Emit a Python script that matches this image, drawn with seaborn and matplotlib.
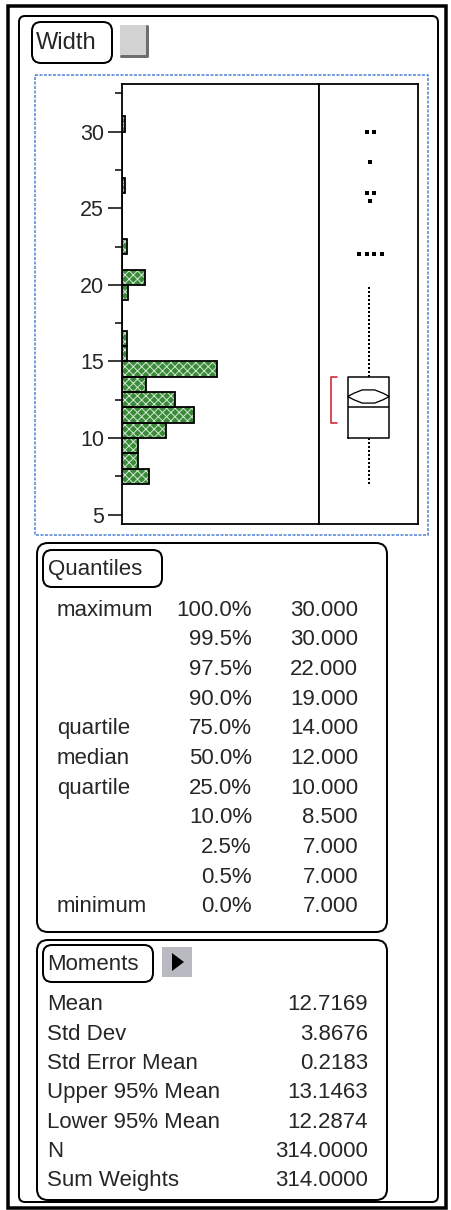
import numpy as np
import pandas as pd
import matplotlib.pyplot as plt
import seaborn as sns
from matplotlib.patches import FancyBboxPatch, Rectangle, Polygon

# histogram of Width: lower bin edge and count (bin width 1)
bin_lo = [7, 8, 9, 10, 11, 12, 13, 14, 15, 16, 19, 20, 22, 26, 30]
bin_count = [21, 13, 13, 35, 57, 42, 19, 75, 4, 4, 5, 18, 4, 2, 2]

# outlier box plot
q1, med, q3 = 10, 12, 14
whisk_lo, whisk_hi = 7, 20
outliers = [22, 22, 22, 22, 25.5, 26, 26, 28, 30, 30]
mean_val = 12.7169
lower95, upper95 = 12.2874, 13.1463
short_half = [11, 14]

# quantiles table
q_names = ['maximum', '', '', '', 'quartile', 'median', 'quartile', '', '', '', 'minimum']
q_pcts = [100.0, 99.5, 97.5, 90.0, 75.0, 50.0, 25.0, 10.0, 2.5, 0.5, 0.0]
q_vals = [30.0, 30.0, 22.0, 19.0, 14.0, 12.0, 10.0, 8.5, 7.0, 7.0, 7.0]

# moments table
m_names = ['Mean', 'Std Dev', 'Std Error Mean', 'Upper 95% Mean',
           'Lower 95% Mean', 'N', 'Sum Weights']
m_vals = [12.7169, 3.8676, 0.2183, 13.1463, 12.2874, 314.0, 314.0]

sns.set_style('white')
plt.rcParams['font.family'] = ['Liberation Sans', 'DejaVu Sans']
plt.rcParams['hatch.linewidth'] = 0.7

W, H = 451, 1210
PX = 0.72  # points per pixel at dpi 100
FS = 16
fig = plt.figure(figsize=(W / 100, H / 100), dpi=100)
fig.patch.set_facecolor('white')

# background axes in pixel coordinates for the window furniture
bg = fig.add_axes([0, 0, 1, 1])
bg.set_xlim(0, W)
bg.set_ylim(H, 0)
bg.axis('off')


def px_axes(x0, y0, x1, y1):
    return fig.add_axes([x0 / W, 1 - y1 / H, (x1 - x0) / W, (y1 - y0) / H])


def rbox(x0, y0, x1, y1, r=8, lw=2, ec='black', fc='none', ls='-'):
    bg.add_patch(FancyBboxPatch((x0, y0), x1 - x0, y1 - y0,
                                boxstyle=f'round,pad=0,rounding_size={r}',
                                ec=ec, fc=fc, lw=lw * PX, ls=ls))


# outer window frames
bg.add_patch(Rectangle((8, 6), 438, 1202, fill=False, ec='black', lw=3.5 * PX))
rbox(19, 16, 438, 1202, r=6, lw=2)
bg.add_patch(Rectangle((35, 75), 393, 460, fill=False, ec='#4a7fd4',
                       lw=1.5 * PX, ls=(0, (2, 1))))

# Width title + button
rbox(32, 22, 112, 63, r=9, lw=2)
bg.text(36, 43, 'Width', fontsize=17, va='center', ha='left')
bg.add_patch(Rectangle((120, 25), 28, 32, fc='#d2d2d2', ec='none'))
bg.plot([121, 147, 147], [56, 56, 26], color='#6e6e6e', lw=3 * PX)

# Quantiles panel
rbox(37, 543, 387, 932, r=11, lw=2)
rbox(43, 550, 162, 587, r=9, lw=2)
bg.text(48, 569, 'Quantiles', fontsize=FS, va='center', ha='left')
for i, (nm, p, v) in enumerate(zip(q_names, q_pcts, q_vals)):
    y = 610 + i * 29.7
    bg.text(57, y, nm, fontsize=FS, va='center', ha='left')
    bg.text(252, y, f'{p:.1f}%', fontsize=FS, va='center', ha='right')
    bg.text(358, y, f'{v:.3f}', fontsize=FS, va='center', ha='right')

# Moments panel
rbox(37, 940, 387, 1200, r=11, lw=2)
rbox(43, 945, 153, 982, r=9, lw=2)
bg.text(47, 964, 'Moments', fontsize=FS, va='center', ha='left')
bg.add_patch(Rectangle((162, 947), 30, 30, fc='#b9b9c2', ec='none'))
bg.add_patch(Polygon([[172, 953], [172, 971], [184, 962]], closed=True,
                     fc='black', ec='none'))
for i, (nm, v) in enumerate(zip(m_names, m_vals)):
    y = 1005 + i * 29.3
    bg.text(47, y, nm, fontsize=FS, va='center', ha='left')
    bg.text(368, y, f'{v:.4f}', fontsize=FS, va='center', ha='right')

# histogram
ylim = (4.4, 33.1)
ax_h = px_axes(122, 84, 319, 524)
df = pd.DataFrame({'width': np.array(bin_lo) + 0.5, 'n': bin_count})
sns.histplot(data=df, y='width', weights='n', binwidth=1, binrange=(7, 31),
             ax=ax_h, color='#3a8a3a', alpha=1, linewidth=0)
for p in list(ax_h.patches):
    p.set_hatch('xxxx')
    p.set_edgecolor('#cfe8cf')
    ax_h.add_patch(Rectangle(p.get_xy(), p.get_width(), p.get_height(),
                             fill=False, ec='black', lw=1.8 * PX))
ax_h.set_ylim(*ylim)
ax_h.set_xlim(0, 155.5)
ax_h.set_xticks([])
ax_h.set_yticks([5, 10, 15, 20, 25, 30])
ax_h.set_yticks(np.arange(7.5, 33, 5), minor=True)
ax_h.tick_params(axis='y', which='major', left=True, length=14 * PX,
                 width=1.5 * PX, labelsize=15.5, pad=4 * PX, color='black')
ax_h.tick_params(axis='y', which='minor', left=True, length=7 * PX,
                 width=1.5 * PX, color='black')
ax_h.set_xlabel('')
ax_h.set_ylabel('')

# outlier box plot
ax_b = px_axes(319, 84, 418, 524)
ax_b.set_ylim(*ylim)
ax_b.set_xlim(0, 1)
stats = [dict(med=med, q1=q1, q3=q3, whislo=whisk_lo, whishi=whisk_hi, fliers=[])]
ax_b.bxp(stats, positions=[0.5], widths=0.42, showcaps=False, manage_ticks=False,
         boxprops=dict(color='black', lw=1.5 * PX),
         whiskerprops=dict(color='black', lw=2 * PX, linestyle=(0, (1, 1))),
         medianprops=dict(color='black', lw=1.5 * PX))

# jitter duplicates side by side
ov = np.array(outliers, dtype=float)
ox = np.zeros_like(ov)
for u in np.unique(ov):
    idx = np.where(ov == u)[0]
    ox[idx] = 0.52 + (np.arange(len(idx)) - (len(idx) - 1) / 2) * 0.075
sns.scatterplot(x=ox, y=ov, marker='s', s=10, color='black', linewidth=0, ax=ax_b)

# means diamond
L, R = 0.29, 0.71
w = R - L
dm_up, dm_lo = upper95 - mean_val, mean_val - lower95
diamond = [[L, mean_val], [L + 0.15 * w, mean_val + 0.5 * dm_up],
           [L + 0.35 * w, mean_val + dm_up], [R - 0.35 * w, mean_val + dm_up],
           [R - 0.15 * w, mean_val + 0.5 * dm_up], [R, mean_val],
           [R - 0.15 * w, mean_val - 0.5 * dm_lo], [R - 0.35 * w, mean_val - dm_lo],
           [L + 0.35 * w, mean_val - dm_lo], [L + 0.15 * w, mean_val - 0.5 * dm_lo]]
ax_b.add_patch(Polygon(diamond, closed=True, fill=False, ec='black', lw=1.3 * PX))

# shortest half bracket
ax_b.plot([0.18, 0.118, 0.118, 0.18],
          [short_half[1], short_half[1], short_half[0], short_half[0]],
          color='#d02030', lw=1.6 * PX)
ax_b.set_xticks([])
ax_b.set_yticks([])

for ax in (ax_h, ax_b):
    for s in ax.spines.values():
        s.set_visible(True)
        s.set_color('black')
        s.set_linewidth(1.8 * PX)

fig.savefig('out.png', dpi=100, facecolor='white')
